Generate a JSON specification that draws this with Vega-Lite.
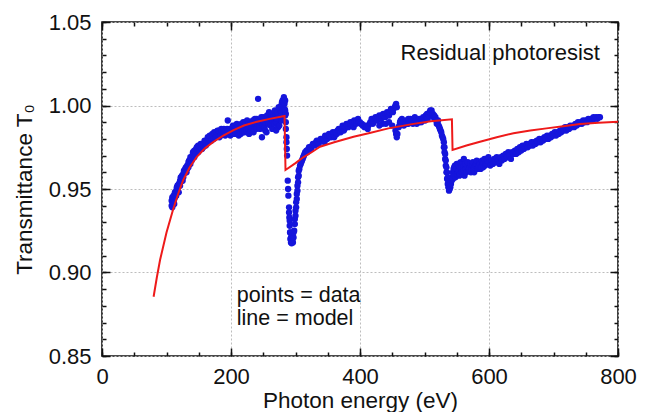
{
  "$schema": "https://vega.github.io/schema/vega-lite/v6.json",
  "width": 516,
  "height": 334,
  "autosize": "none",
  "padding": {"left": 102, "top": 22, "right": 31, "bottom": 56},
  "background": "white",
  "config": {
    "font": "Liberation Sans",
    "view": {"stroke": "#111111", "strokeWidth": 1.6},
    "axis": {
      "labelFont": "Liberation Sans",
      "titleFont": "Liberation Sans",
      "labelFontSize": 22,
      "titleFontSize": 22.5,
      "titleFontWeight": "normal",
      "labelColor": "#111111",
      "titleColor": "#111111",
      "tickColor": "#111111",
      "tickWidth": 1.5,
      "domain": false
    }
  },
  "resolve": {"axis": {"x": "independent", "y": "independent"}},
  "datasets": {
    "pts": [
      {"E":108,"T":0.940},{"E":108,"T":0.943},{"E":109,"T":0.945},{"E":109,"T":0.939},{"E":110,"T":0.942},{"E":111,"T":0.946},{"E":111,"T":0.943},{"E":112,"T":0.944},{"E":112,"T":0.941},{"E":113,"T":0.948},{"E":113,"T":0.945},{"E":114,"T":0.946},{"E":115,"T":0.949},{"E":115,"T":0.946},{"E":116,"T":0.951},{"E":117,"T":0.949},{"E":117,"T":0.952},{"E":118,"T":0.952},{"E":119,"T":0.948},{"E":119,"T":0.953},{"E":120,"T":0.953},{"E":121,"T":0.955},{"E":121,"T":0.952},{"E":122,"T":0.957},{"E":123,"T":0.956},{"E":124,"T":0.958},{"E":124,"T":0.955},{"E":125,"T":0.955},{"E":126,"T":0.959},{"E":126,"T":0.957},{"E":127,"T":0.961},{"E":128,"T":0.960},{"E":129,"T":0.962},{"E":130,"T":0.963},{"E":130,"T":0.960},{"E":131,"T":0.960},{"E":132,"T":0.964},{"E":132,"T":0.962},{"E":134,"T":0.966},{"E":134,"T":0.963},{"E":135,"T":0.967},{"E":136,"T":0.967},{"E":137,"T":0.965},{"E":137,"T":0.969},{"E":138,"T":0.968},{"E":139,"T":0.967},{"E":140,"T":0.970},{"E":141,"T":0.972},{"E":142,"T":0.971},{"E":143,"T":0.969},{"E":143,"T":0.973},{"E":144,"T":0.972},{"E":145,"T":0.971},{"E":146,"T":0.974},{"E":147,"T":0.975},{"E":148,"T":0.974},{"E":149,"T":0.972},{"E":149,"T":0.976},{"E":150,"T":0.975},{"E":151,"T":0.973},{"E":152,"T":0.975},{"E":153,"T":0.977},{"E":154,"T":0.976},{"E":155,"T":0.974},{"E":155,"T":0.977},{"E":156,"T":0.976},{"E":157,"T":0.975},{"E":158,"T":0.977},{"E":159,"T":0.979},{"E":160,"T":0.978},{"E":161,"T":0.976},{"E":162,"T":0.977},{"E":163,"T":0.979},{"E":164,"T":0.981},{"E":165,"T":0.978},{"E":166,"T":0.980},{"E":167,"T":0.982},{"E":168,"T":0.979},{"E":169,"T":0.981},{"E":170,"T":0.979},{"E":171,"T":0.983},{"E":172,"T":0.982},{"E":173,"T":0.980},{"E":174,"T":0.984},{"E":175,"T":0.983},{"E":176,"T":0.981},{"E":177,"T":0.982},{"E":178,"T":0.984},{"E":179,"T":0.985},{"E":180,"T":0.983},{"E":181,"T":0.985},{"E":182,"T":0.981},{"E":183,"T":0.984},{"E":184,"T":0.982},{"E":185,"T":0.986},{"E":186,"T":0.985},{"E":187,"T":0.983},{"E":188,"T":0.984},{"E":189,"T":0.986},{"E":190,"T":0.983},{"E":191,"T":0.982},{"E":192,"T":0.985},{"E":193,"T":0.983},{"E":194,"T":0.986},{"E":195,"T":0.984},{"E":195,"T":0.991},{"E":196,"T":0.985},{"E":197,"T":0.983},{"E":198,"T":0.986},{"E":199,"T":0.982},{"E":200,"T":0.984},
      {"E":201,"T":0.983},{"E":202,"T":0.986},{"E":203,"T":0.988},{"E":204,"T":0.983},{"E":205,"T":0.985},{"E":206,"T":0.988},{"E":207,"T":0.983},{"E":208,"T":0.985},{"E":209,"T":0.989},{"E":210,"T":0.987},{"E":211,"T":0.985},{"E":212,"T":0.982},{"E":213,"T":0.988},{"E":214,"T":0.986},{"E":215,"T":0.983},{"E":216,"T":0.989},{"E":217,"T":0.986},{"E":218,"T":0.984},{"E":219,"T":0.990},{"E":220,"T":0.987},{"E":221,"T":0.984},{"E":222,"T":0.990},{"E":223,"T":0.987},{"E":224,"T":0.985},{"E":225,"T":0.991},{"E":226,"T":0.988},{"E":227,"T":0.986},{"E":228,"T":0.983},{"E":229,"T":0.988},{"E":230,"T":0.989},{"E":231,"T":0.985},{"E":232,"T":0.987},{"E":233,"T":0.989},{"E":234,"T":0.991},{"E":235,"T":0.984},{"E":236,"T":0.986},{"E":237,"T":0.992},{"E":238,"T":0.989},{"E":239,"T":0.986},{"E":240,"T":0.992},{"E":241,"T":0.989},{"E":242,"T":1.004},{"E":243,"T":0.991},{"E":244,"T":0.988},{"E":245,"T":0.986},{"E":246,"T":0.990},{"E":247,"T":0.993},{"E":248,"T":0.981},{"E":249,"T":0.988},{"E":250,"T":0.993},{"E":251,"T":0.990},{"E":252,"T":0.987},{"E":253,"T":0.985},{"E":254,"T":0.990},{"E":255,"T":0.984},{"E":256,"T":0.994},{"E":257,"T":0.991},{"E":258,"T":0.989},{"E":259,"T":0.996},{"E":260,"T":0.992},{"E":261,"T":0.988},{"E":262,"T":0.995},{"E":263,"T":0.993},{"E":264,"T":0.986},{"E":265,"T":0.991},{"E":266,"T":0.993},{"E":267,"T":0.989},{"E":268,"T":0.997},{"E":269,"T":0.994},{"E":270,"T":0.990},{"E":270,"T":0.985},{"E":271,"T":0.992},{"E":272,"T":0.996},{"E":273,"T":0.987},{"E":274,"T":0.999},{"E":275,"T":0.988},{"E":276,"T":0.993},{"E":276,"T":0.998},{"E":277,"T":0.997},{"E":278,"T":1.000},{"E":278,"T":0.991},{"E":279,"T":0.996},{"E":279,"T":1.002},{"E":280,"T":1.003},{"E":280,"T":0.999},{"E":281,"T":0.998},{"E":281,"T":0.994},{"E":282,"T":1.005},{"E":282,"T":1.002},{"E":283,"T":1.001},{"E":283,"T":0.998},{"E":284,"T":0.997},{"E":284,"T":0.994},{"E":284,"T":1.003},{"E":285,"T":0.990},{"E":285,"T":0.986},{"E":285,"T":0.995},{"E":286,"T":0.981},
      {"E":286,"T":0.978},{"E":286.5,"T":0.974},{"E":287,"T":0.970},{"E":288,"T":0.955},{"E":288.5,"T":0.950},{"E":289,"T":0.946},{"E":290,"T":0.939},{"E":290,"T":0.936},{"E":290.5,"T":0.933},{"E":291,"T":0.928},{"E":291,"T":0.931},{"E":291.5,"T":0.924},{"E":292,"T":0.920},{"E":292,"T":0.924},{"E":293,"T":0.918},{"E":293,"T":0.921},{"E":294,"T":0.9175},{"E":294,"T":0.920},{"E":295,"T":0.919},{"E":295,"T":0.922},{"E":296,"T":0.918},{"E":296,"T":0.921},{"E":297,"T":0.921},{"E":297,"T":0.924},{"E":298,"T":0.925},{"E":299,"T":0.929},{"E":299,"T":0.932},{"E":300,"T":0.934},{"E":300,"T":0.937},{"E":301,"T":0.939},{"E":301,"T":0.942},{"E":302,"T":0.944},{"E":302,"T":0.947},{"E":303,"T":0.949},{"E":303,"T":0.952},{"E":304,"T":0.954},{"E":304,"T":0.957},{"E":305,"T":0.958},{"E":305,"T":0.961},{"E":306,"T":0.962},{"E":307,"T":0.964},{"E":308,"T":0.965},{"E":309,"T":0.966},{"E":310,"T":0.967},{"E":311,"T":0.968},{"E":312,"T":0.969},{"E":313,"T":0.970},{"E":314,"T":0.971},{"E":315,"T":0.972},{"E":317,"T":0.973},
      {"E":318,"T":0.972},{"E":320,"T":0.974},{"E":321,"T":0.975},{"E":323,"T":0.975},{"E":324,"T":0.974},{"E":326,"T":0.976},{"E":327,"T":0.977},{"E":329,"T":0.977},{"E":330,"T":0.976},{"E":332,"T":0.978},{"E":333,"T":0.979},{"E":335,"T":0.978},{"E":336,"T":0.977},{"E":338,"T":0.979},{"E":339,"T":0.980},{"E":341,"T":0.980},{"E":342,"T":0.979},{"E":344,"T":0.980},{"E":345,"T":0.978},{"E":346,"T":0.982},{"E":347,"T":0.981},{"E":349,"T":0.980},{"E":350,"T":0.982},{"E":352,"T":0.983},{"E":353,"T":0.982},{"E":355,"T":0.981},{"E":356,"T":0.983},{"E":358,"T":0.984},{"E":359,"T":0.983},{"E":360,"T":0.981},{"E":361,"T":0.982},{"E":362,"T":0.984},{"E":364,"T":0.983},{"E":365,"T":0.985},{"E":367,"T":0.986},{"E":368,"T":0.985},{"E":370,"T":0.984},{"E":371,"T":0.986},{"E":373,"T":0.988},{"E":374,"T":0.987},{"E":375,"T":0.985},{"E":376,"T":0.986},{"E":377,"T":0.987},{"E":379,"T":0.989},{"E":380,"T":0.988},{"E":382,"T":0.987},{"E":383,"T":0.989},{"E":385,"T":0.990},{"E":386,"T":0.989},{"E":388,"T":0.988},{"E":389,"T":0.990},{"E":390,"T":0.987},{"E":391,"T":0.991},{"E":392,"T":0.990},{"E":394,"T":0.989},{"E":395,"T":0.991},{"E":397,"T":0.992},{"E":398,"T":0.990},{"E":400,"T":0.990},{"E":401,"T":0.989},{"E":403,"T":0.989},{"E":404,"T":0.988},{"E":406,"T":0.988},{"E":407,"T":0.987},{"E":409,"T":0.988},{"E":410,"T":0.987},{"E":412,"T":0.986},{"E":413,"T":0.988},{"E":415,"T":0.989},{"E":416,"T":0.990},{"E":418,"T":0.992},{"E":419,"T":0.991},{"E":420,"T":0.989},{"E":421,"T":0.990},{"E":422,"T":0.992},{"E":424,"T":0.993},{"E":425,"T":0.992},{"E":427,"T":0.991},{"E":428,"T":0.993},{"E":430,"T":0.994},{"E":431,"T":0.993},{"E":433,"T":0.992},{"E":434,"T":0.994},{"E":436,"T":0.995},{"E":437,"T":0.994},{"E":439,"T":0.993},{"E":440,"T":0.995},{"E":442,"T":0.996},{"E":443,"T":0.995},{"E":445,"T":0.994},{"E":446,"T":0.996},{"E":448,"T":0.998},{"E":449,"T":0.997},{"E":451,"T":0.996},{"E":452,"T":0.998},{"E":454,"T":0.999},{"E":455,"T":1.000},{"E":456,"T":1.001},{"E":457,"T":0.999},
      {"E":430,"T":0.988},{"E":435,"T":0.989},{"E":440,"T":0.989},{"E":445,"T":0.990},{"E":450,"T":0.988},{"E":455,"T":0.985},{"E":456,"T":0.983},{"E":457,"T":0.981},{"E":458,"T":0.983},{"E":460,"T":0.987},{"E":461,"T":0.988},{"E":462,"T":0.990},{"E":463,"T":0.991},{"E":465,"T":0.989},{"E":465,"T":0.992},{"E":467,"T":0.990},{"E":468,"T":0.988},{"E":470,"T":0.990},{"E":472,"T":0.991},{"E":473,"T":0.989},{"E":475,"T":0.989},{"E":475,"T":0.992},{"E":477,"T":0.990},{"E":478,"T":0.992},{"E":480,"T":0.991},{"E":482,"T":0.989},{"E":483,"T":0.992},{"E":485,"T":0.990},{"E":485,"T":0.993},{"E":487,"T":0.991},{"E":488,"T":0.989},{"E":490,"T":0.991},{"E":492,"T":0.992},{"E":493,"T":0.990},{"E":495,"T":0.990},{"E":495,"T":0.992},{"E":497,"T":0.991},{"E":498,"T":0.993},{"E":500,"T":0.992},{"E":501,"T":0.991},{"E":502,"T":0.994},{"E":503,"T":0.993},{"E":504,"T":0.995},{"E":505,"T":0.992},{"E":506,"T":0.995},{"E":507,"T":0.994},{"E":508,"T":0.996},{"E":509,"T":0.997},{"E":510,"T":0.995},{"E":511,"T":0.997},{"E":512,"T":0.994},{"E":513,"T":0.995},{"E":514,"T":0.993},{"E":515,"T":0.994},{"E":516,"T":0.992},{"E":517,"T":0.993},{"E":518,"T":0.991},{"E":519,"T":0.989},{"E":520,"T":0.990},{"E":521,"T":0.991},{"E":522,"T":0.988},{"E":523,"T":0.987},{"E":524,"T":0.986},{"E":525,"T":0.985},{"E":526,"T":0.984},{"E":527,"T":0.982},{"E":528,"T":0.981},{"E":529,"T":0.980},{"E":530,"T":0.978},{"E":530,"T":0.975},{"E":531,"T":0.975},{"E":531,"T":0.972},{"E":532,"T":0.971},{"E":532,"T":0.968},{"E":533,"T":0.967},{"E":533,"T":0.964},{"E":534,"T":0.963},{"E":534,"T":0.960},{"E":535,"T":0.960},{"E":535,"T":0.956},{"E":536,"T":0.957},{"E":536,"T":0.953},{"E":537,"T":0.955},{"E":537,"T":0.951},{"E":538,"T":0.952},{"E":538,"T":0.949},{"E":539,"T":0.950},{"E":539,"T":0.953},{"E":540,"T":0.951},{"E":540,"T":0.955},{"E":541,"T":0.953},{"E":541,"T":0.957},{"E":542,"T":0.955},{"E":543,"T":0.957},
      {"E":544,"T":0.960},{"E":544,"T":0.956},{"E":545,"T":0.958},{"E":545,"T":0.962},{"E":546,"T":0.963},{"E":546,"T":0.959},{"E":547,"T":0.961},{"E":547,"T":0.964},{"E":548,"T":0.957},{"E":548,"T":0.961},{"E":549,"T":0.964},{"E":549,"T":0.959},{"E":550,"T":0.962},{"E":550,"T":0.965},{"E":551,"T":0.959},{"E":552,"T":0.965},{"E":552,"T":0.960},{"E":553,"T":0.961},{"E":553,"T":0.964},{"E":554,"T":0.958},{"E":555,"T":0.963},{"E":555,"T":0.959},{"E":556,"T":0.966},{"E":557,"T":0.962},{"E":558,"T":0.960},{"E":559,"T":0.965},{"E":560,"T":0.963},{"E":561,"T":0.968},{"E":561,"T":0.961},{"E":562,"T":0.958},{"E":563,"T":0.965},{"E":564,"T":0.962},{"E":565,"T":0.960},{"E":566,"T":0.964},{"E":567,"T":0.966},{"E":568,"T":0.961},{"E":569,"T":0.962},{"E":570,"T":0.963},{"E":571,"T":0.965},{"E":572,"T":0.960},{"E":573,"T":0.962},{"E":574,"T":0.964},{"E":575,"T":0.966},{"E":576,"T":0.962},{"E":577,"T":0.960},{"E":578,"T":0.963},{"E":579,"T":0.964},{"E":580,"T":0.965},{"E":581,"T":0.967},{"E":582,"T":0.962},{"E":583,"T":0.963},{"E":584,"T":0.964},{"E":585,"T":0.966},{"E":586,"T":0.965},{"E":587,"T":0.962},{"E":588,"T":0.963},{"E":589,"T":0.967},{"E":590,"T":0.965},{"E":591,"T":0.963},{"E":592,"T":0.966},{"E":593,"T":0.968},{"E":594,"T":0.964},{"E":595,"T":0.965},{"E":596,"T":0.967},{"E":597,"T":0.965},{"E":598,"T":0.967},{"E":599,"T":0.969},
      {"E":600,"T":0.966},{"E":602,"T":0.964},{"E":604,"T":0.967},{"E":606,"T":0.965},{"E":608,"T":0.968},{"E":610,"T":0.966},{"E":612,"T":0.969},{"E":614,"T":0.967},{"E":616,"T":0.965},{"E":618,"T":0.969},{"E":620,"T":0.967},{"E":622,"T":0.970},{"E":624,"T":0.968},{"E":626,"T":0.971},{"E":628,"T":0.969},{"E":630,"T":0.972},{"E":632,"T":0.970},{"E":634,"T":0.968},{"E":636,"T":0.972},{"E":638,"T":0.971},{"E":640,"T":0.973},{"E":642,"T":0.971},{"E":644,"T":0.974},{"E":646,"T":0.972},{"E":648,"T":0.975},{"E":650,"T":0.973},{"E":652,"T":0.976},{"E":654,"T":0.974},{"E":656,"T":0.975},{"E":658,"T":0.977},{"E":660,"T":0.975},{"E":662,"T":0.977},{"E":664,"T":0.976},{"E":666,"T":0.978},{"E":668,"T":0.976},{"E":670,"T":0.978},{"E":672,"T":0.977},{"E":674,"T":0.979},{"E":676,"T":0.978},{"E":678,"T":0.980},{"E":680,"T":0.978},{"E":682,"T":0.980},{"E":684,"T":0.979},{"E":686,"T":0.981},{"E":688,"T":0.980},{"E":690,"T":0.982},{"E":692,"T":0.980},{"E":694,"T":0.982},{"E":696,"T":0.981},{"E":698,"T":0.983},{"E":700,"T":0.982},{"E":702,"T":0.984},{"E":704,"T":0.982},{"E":706,"T":0.984},{"E":708,"T":0.983},{"E":710,"T":0.985},{"E":712,"T":0.984},{"E":714,"T":0.986},{"E":716,"T":0.985},{"E":718,"T":0.987},{"E":720,"T":0.985},{"E":722,"T":0.987},{"E":724,"T":0.986},{"E":726,"T":0.988},{"E":728,"T":0.987},{"E":730,"T":0.988},{"E":732,"T":0.987},{"E":734,"T":0.989},{"E":736,"T":0.988},{"E":738,"T":0.990},{"E":740,"T":0.989},{"E":742,"T":0.990},{"E":744,"T":0.989},{"E":746,"T":0.991},{"E":748,"T":0.990},{"E":750,"T":0.991},{"E":752,"T":0.990},{"E":754,"T":0.992},{"E":756,"T":0.991},{"E":758,"T":0.992},{"E":760,"T":0.991},{"E":762,"T":0.993},{"E":764,"T":0.992},{"E":766,"T":0.993},{"E":768,"T":0.992},{"E":770,"T":0.993},{"E":772,"T":0.993}
    ],
    "model": [
      {"E":80,"T":0.8855},{"E":85,"T":0.897},{"E":90,"T":0.9075},{"E":100,"T":0.924},{"E":110,"T":0.9374},{"E":118,"T":0.947},{"E":126,"T":0.9554},{"E":136,"T":0.963},{"E":147,"T":0.9693},{"E":160,"T":0.9745},{"E":173,"T":0.9783},{"E":188,"T":0.982},{"E":204,"T":0.9853},{"E":220,"T":0.988},{"E":240,"T":0.9903},{"E":260,"T":0.992},{"E":283,"T":0.9937},{"E":284.5,"T":0.9614},{"E":300,"T":0.9655},{"E":312,"T":0.969},{"E":325,"T":0.972},{"E":338,"T":0.9753},{"E":360,"T":0.978},{"E":390,"T":0.9813},{"E":415,"T":0.9835},{"E":444,"T":0.9863},{"E":483,"T":0.989},{"E":510,"T":0.9905},{"E":542.5,"T":0.9917},{"E":543.5,"T":0.9734},{"E":565,"T":0.976},{"E":586,"T":0.9783},{"E":612,"T":0.981},{"E":638,"T":0.9834},{"E":664,"T":0.985},{"E":689,"T":0.9863},{"E":715,"T":0.9876},{"E":741,"T":0.9889},{"E":770,"T":0.9897},{"E":800,"T":0.9903}
    ],
    "ann1": [{"E":772,"T":1.0272,"label":"Residual photoresist"}],
    "ann2": [{"E":209,"T":0.8823,"label":"points = data"},{"E":209,"T":0.8686,"label":"line = model"}]
  },
  "layer": [
    {
      "data": {"name": "pts"},
      "mark": {"type": "circle", "size": 40, "color": "#1515dc", "opacity": 1},
      "encoding": {
        "x": {"field": "E", "type": "quantitative",
              "scale": {"domain": [0, 800], "nice": false, "zero": false},
              "axis": {"orient": "bottom", "title": "Photon energy (eV)", "values": [0, 200, 400, 600, 800], "format": "d",
                       "grid": true, "gridColor": "#bdbdbd", "gridDash": [2, 2], "gridWidth": 1,
                       "tickSize": -8, "labelPadding": 18, "titlePadding": 2, "labelFlush": false}},
        "y": {"field": "T", "type": "quantitative",
              "scale": {"domain": [0.85, 1.05], "nice": false, "zero": false},
              "axis": {"orient": "left", "title": "Transmittance T₀", "values": [0.85, 0.9, 0.95, 1.0, 1.05], "format": ".2f",
                       "grid": true, "gridColor": "#bdbdbd", "gridDash": [2, 2], "gridWidth": 1,
                       "tickSize": -8, "labelPadding": 19, "titlePadding": 12, "labelFlush": false}}
      }
    },
    {
      "data": {"name": "model"},
      "mark": {"type": "line", "color": "#ee1a1a", "strokeWidth": 2},
      "encoding": {
        "x": {"field": "E", "type": "quantitative",
              "scale": {"domain": [0, 800], "nice": false, "zero": false},
              "axis": {"orient": "bottom", "title": null, "labels": false, "grid": false, "tickSize": -4,
                       "values": [0, 50, 100, 150, 200, 250, 300, 350, 400, 450, 500, 550, 600, 650, 700, 750, 800]}},
        "y": {"field": "T", "type": "quantitative",
              "scale": {"domain": [0.85, 1.05], "nice": false, "zero": false},
              "axis": {"orient": "left", "title": null, "labels": false, "grid": false, "tickSize": -4,
                       "values": [0.85, 0.86, 0.87, 0.88, 0.89, 0.9, 0.91, 0.92, 0.93, 0.94, 0.95, 0.96, 0.97, 0.98, 0.99, 1.0, 1.01, 1.02, 1.03, 1.04, 1.05]}}
      }
    },
    {
      "data": {"name": "ann1"},
      "mark": {"type": "text", "align": "right", "baseline": "alphabetic", "fontSize": 22, "font": "Liberation Sans", "color": "#111111"},
      "encoding": {
        "text": {"field": "label"},
        "x": {"field": "E", "type": "quantitative",
              "scale": {"domain": [0, 800], "nice": false, "zero": false},
              "axis": {"orient": "top", "title": null, "labels": false, "grid": false, "tickSize": -8,
                       "values": [0, 200, 400, 600, 800]}},
        "y": {"field": "T", "type": "quantitative",
              "scale": {"domain": [0.85, 1.05], "nice": false, "zero": false},
              "axis": {"orient": "right", "title": null, "labels": false, "grid": false, "tickSize": -8,
                       "values": [0.85, 0.9, 0.95, 1.0, 1.05]}}
      }
    },
    {
      "data": {"name": "ann2"},
      "mark": {"type": "text", "align": "left", "baseline": "alphabetic", "fontSize": 21.5, "font": "Liberation Sans", "color": "#111111"},
      "encoding": {
        "text": {"field": "label"},
        "x": {"field": "E", "type": "quantitative",
              "scale": {"domain": [0, 800], "nice": false, "zero": false},
              "axis": {"orient": "top", "title": null, "labels": false, "grid": false, "tickSize": -4,
                       "values": [0, 50, 100, 150, 200, 250, 300, 350, 400, 450, 500, 550, 600, 650, 700, 750, 800]}},
        "y": {"field": "T", "type": "quantitative",
              "scale": {"domain": [0.85, 1.05], "nice": false, "zero": false},
              "axis": {"orient": "right", "title": null, "labels": false, "grid": false, "tickSize": -4,
                       "values": [0.85, 0.86, 0.87, 0.88, 0.89, 0.9, 0.91, 0.92, 0.93, 0.94, 0.95, 0.96, 0.97, 0.98, 0.99, 1.0, 1.01, 1.02, 1.03, 1.04, 1.05]}}
      }
    }
  ]
}
